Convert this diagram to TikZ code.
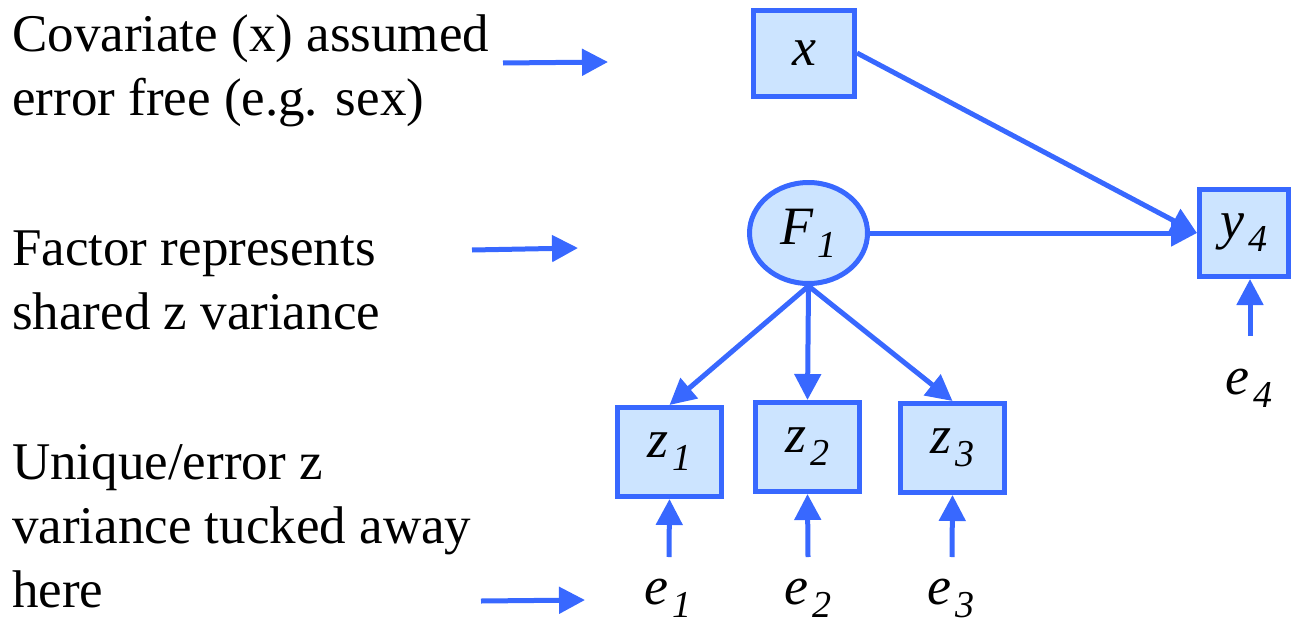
\documentclass[tikz,border=0pt]{standalone}
\usepackage{fontspec}
\setmainfont{Liberation Serif}
\usetikzlibrary{arrows.meta,shapes.geometric}
\definecolor{semblue}{RGB}{56,104,255}
\definecolor{semfill}{RGB}{204,228,255}
\newcommand{\vsub}[1]{\hspace{0.06em}\raisebox{-0.24em}{\fontsize{38}{38}\selectfont\itshape #1}}
\begin{document}
\begin{tikzpicture}[x=1pt,y=-1pt,
  obs/.style={draw=semblue,fill=semfill,line width=5pt,inner sep=0pt,
    font=\fontsize{54}{54}\selectfont\itshape},
  zbox/.style={obs,minimum width=104pt,minimum height=89pt},
  lat/.style={obs,ellipse,minimum width=118pt,minimum height=101pt},
  conn/.style={draw=semblue,line width=5pt,-{Triangle[length=26pt,width=26pt]}},
  note/.style={anchor=base west,align=left,inner sep=0pt,
    font=\fontsize{53}{64}\selectfont},
  errlab/.style={inner sep=0pt,font=\fontsize{54}{54}\selectfont\itshape}]
\useasboundingbox (0,0) rectangle (1295,629);

% observed / latent nodes
\node[obs,minimum width=101pt,minimum height=86pt] (x) at (804,53) {x};
\node[lat] (F1) at (808.5,233) {F\vsub{1}};
\node[obs,minimum width=89pt,minimum height=87pt] (y4) at (1244,233) {y\vsub{4}};
\node[zbox] (z1) at (669.5,452) {z\vsub{1}};
\node[zbox] (z2) at (807.5,447) {z\vsub{2}};
\node[zbox] (z3) at (952.5,448) {z\vsub{3}};

% error labels
\node[errlab] (e1) at (668,598) {e\vsub{1}};
\node[errlab] (e2) at (808,598) {e\vsub{2}};
\node[errlab] (e3) at (951,598) {e\vsub{3}};
\node[errlab] (e4) at (1249,388) {e\vsub{4}};

\coordinate (c1) at (669,557);
\coordinate (c2) at (808,557);
\coordinate (c3) at (952,557);
\coordinate (c4) at (1250,336);

% structural paths
\draw[conn] (x.east) -- (y4.west);
\draw[conn] (F1.east) -- (y4.west);
\draw[conn] (F1.south) -- (z1.north);
\draw[conn] (F1.south) -- (z2.north);
\draw[conn] (F1.south) -- (z3.north);
\draw[conn] (c1) -- (z1.south);
\draw[conn] (c2) -- (z2.south);
\draw[conn] (c3) -- (z3.south);
\draw[conn] (c4) -- (c4 |- y4.south);

% annotations (anchor = baseline of last line)
\node[note] (n1) at (12,115) {Covariate (x) assumed\\error free (e.g. sex)};
\node[note] (n2) at (12,329) {Factor represents\\shared z variance};
\node[note] (n3) at (12,607) {Unique/error z\\variance tucked away\\here};

\coordinate (a1s) at (503,63);
\coordinate (a1e) at (608,62);
\coordinate (a2s) at (472,250);
\coordinate (a2e) at (578,248);
\coordinate (a3s) at (481,601);
\coordinate (a3e) at (585,600);
\draw[conn] (a1s) -- (a1e);
\draw[conn] (a2s) -- (a2e);
\draw[conn] (a3s) -- (a3e);
\end{tikzpicture}
\end{document}
